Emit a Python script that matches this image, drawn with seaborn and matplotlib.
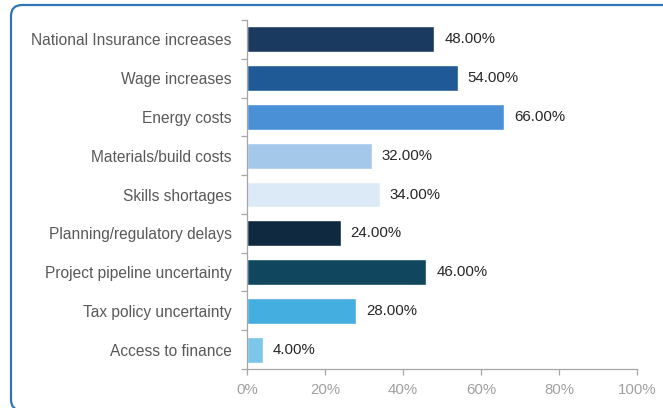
import matplotlib.pyplot as plt
import seaborn as sns
import pandas as pd
import numpy as np
from matplotlib.patches import FancyBboxPatch
from matplotlib.ticker import PercentFormatter

# datos del grafico
categories = ['National Insurance increases', 'Wage increases', 'Energy costs',
              'Materials/build costs', 'Skills shortages', 'Planning/regulatory delays',
              'Project pipeline uncertainty', 'Tax policy uncertainty', 'Access to finance']
values = [48, 54, 66, 32, 34, 24, 46, 28, 4]
bar_colors = ['#1a3a5f', '#1f5a96', '#4a90d6', '#a4c8ea', '#dce9f6',
              '#0f2a40', '#10475f', '#45aee0', '#7cc6ea']

data = pd.DataFrame({'Category': categories, 'Value': values})

sns.set_style('white')
plt.rcParams['font.family'] = ['Liberation Sans', 'DejaVu Sans']

fig = plt.figure(figsize=(6.63, 4.08), dpi=100)
ax = fig.add_axes([247 / 663, 1 - 369 / 408, 390 / 663, 349 / 408])

sns.barplot(data=data, x='Value', y='Category', hue='Category', palette=bar_colors,
            legend=False, width=0.67, saturation=1, ax=ax)

# etiquetas de valor
for i, v in enumerate(values):
    ax.text(v + 2.6, i, f'{v:.2f}%', va='center', ha='left', fontsize=10.8, color='#262626')

ax.set_xlim(0, 100)
ax.set_ylim(len(categories) - 0.5, -0.5)
ax.set_xticks([0, 20, 40, 60, 80, 100])
ax.xaxis.set_major_formatter(PercentFormatter(decimals=0))
ax.set_xlabel('')
ax.set_ylabel('')

for s in ['top', 'right']:
    ax.spines[s].set_visible(False)
for s in ['left', 'bottom']:
    ax.spines[s].set_color('#a6a6a6')
    ax.spines[s].set_linewidth(0.9)

ax.tick_params(axis='x', bottom=True, colors='#a6a6a6', length=4, width=0.9, labelsize=10.8,
               labelcolor='#a0a0a0', pad=6)
ax.tick_params(axis='y', left=True, length=0, labelsize=11.2, labelcolor='#595959', pad=11)
ax.set_yticks(np.arange(-0.5, len(categories)), minor=True)
ax.tick_params(axis='y', which='minor', left=True, length=4, width=0.9, color='#a6a6a6')

# marco redondeado (en pulgadas)
frame = FancyBboxPatch((0.11, -0.025), 7.0, 4.055,
                       boxstyle='round,pad=0,rounding_size=0.11',
                       transform=fig.dpi_scale_trans, fill=False,
                       edgecolor='#2e75b6', linewidth=1.6, clip_on=False)
fig.patches.append(frame)

fig.savefig('out.png', dpi=100)
